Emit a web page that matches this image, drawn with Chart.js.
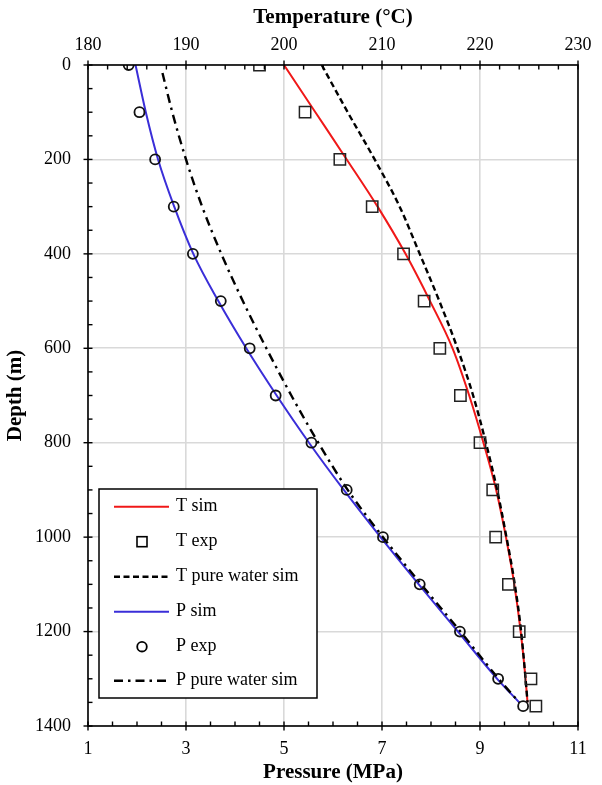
<!DOCTYPE html>
<html>
<head>
<meta charset="utf-8">
<script src="https://cdn.jsdelivr.net/npm/chart.js@4.4.1/dist/chart.umd.min.js"></script>
<style>
  html, body { margin: 0; padding: 0; background: #fff; }
  #wrap { width: 602px; height: 785px; }
</style>
</head>
<body>
<div id="wrap"><canvas id="c" width="602" height="785"></canvas></div>
<script>
// ---- Data ----
const simDepth = [0, 100, 200, 300, 400, 500, 600, 700, 800, 900, 1000, 1100, 1200, 1300, 1350];
const tSim     = [200.0, 203.2, 206.4, 209.55, 212.4, 214.9, 217.2, 218.9, 220.35, 221.65, 222.65, 223.5, 224.15, 224.65, 224.85];
const tPure    = [203.85, 206.5, 209.25, 211.8, 213.85, 215.85, 217.7, 219.3, 220.6, 221.75, 222.7, 223.55, 224.2, 224.65, 224.85];
const pSim     = [1.97, 2.18, 2.43, 2.76, 3.15, 3.66, 4.23, 4.85, 5.51, 6.22, 6.97, 7.75, 8.55, 9.35, 9.80];
const pureDepthP = [17, 100, 200, 300, 400, 500, 600, 700, 800, 900, 1000, 1100, 1200, 1300, 1350];
const pPure    = [2.52, 2.72, 3.0, 3.33, 3.72, 4.16, 4.64, 5.15, 5.70, 6.30, 7.02, 7.80, 8.60, 9.38, 9.80];
const expDepth = [0, 100, 200, 300, 400, 500, 600, 700, 800, 900, 1000, 1100, 1200, 1300, 1358];
const tExp     = [197.5, 202.15, 205.7, 209.0, 212.2, 214.3, 215.9, 218.0, 220.0, 221.3, 221.6, 222.9, 224.0, 225.2, 225.7];
const pExp     = [1.83, 2.05, 2.37, 2.75, 3.14, 3.71, 4.30, 4.83, 5.56, 6.28, 7.02, 7.77, 8.59, 9.37, 9.88];
const pTicks = [1, 3, 5, 7, 9, 11];
const tTicks = [180, 190, 200, 210, 220, 230];
const depthTicks = [0, 200, 400, 600, 800, 1000, 1200, 1400];
const legendLabels = ['T sim', 'T exp', 'T pure water sim', 'P sim', 'P exp', 'P pure water sim'];

const pts = (xs, ys) => xs.map((v, i) => ({ x: v, y: ys[i] }));

const RED = '#f01818';
const BLUE = '#3a2ed8';
const FONT = "'Liberation Serif', 'Times New Roman', serif";

Chart.defaults.font.family = FONT;
Chart.defaults.color = '#000';

const axesPlugin = {
  id: 'axesPlugin',
  afterDraw(chart) {
    const { ctx, chartArea: a, scales } = chart;
    const x = scales.x, x2 = scales.x2, y = scales.y;
    ctx.save();
    ctx.strokeStyle = '#000';
    ctx.lineWidth = 1.6;
    ctx.strokeRect(a.left, a.top, a.right - a.left, a.bottom - a.top);
    ctx.lineWidth = 1.4;
    const line = (x1, y1, xx, yy) => { ctx.beginPath(); ctx.moveTo(x1, y1); ctx.lineTo(xx, yy); ctx.stroke(); };
    for (let v = 1; v <= 11.0001; v += 0.5) {
      const px = x.getPixelForValue(v);
      const major = Math.abs(((v - 1) / 2) - Math.round((v - 1) / 2)) < 1e-6;
      line(px, a.bottom - 4.5, px, a.bottom + (major ? 4.5 : 0));
    }
    for (let v = 180; v <= 230.0001; v += 2) {
      const px = x2.getPixelForValue(v);
      const major = Math.abs(v % 10) < 1e-6;
      line(px, a.top - (major ? 4.5 : 0), px, a.top + 4.5);
    }
    for (let v = 0; v <= 1400.0001; v += 50) {
      const py = y.getPixelForValue(v);
      const major = Math.abs(v % 200) < 1e-6;
      line(a.left - (major ? 4.5 : 0), py, a.left + 4.5, py);
    }
    // legend
    const L = { left: 99, top: 489, right: 317, bottom: 698 };
    ctx.fillStyle = '#fff';
    ctx.fillRect(L.left, L.top, L.right - L.left, L.bottom - L.top);
    ctx.lineWidth = 1.5;
    ctx.strokeStyle = '#000';
    ctx.strokeRect(L.left, L.top, L.right - L.left, L.bottom - L.top);
    const rowsY = [506.7, 541.7, 576.7, 611.7, 646.7, 680.7];
    const styles = [
      { type: 'line', color: RED, dash: [] },
      { type: 'rect' },
      { type: 'line', color: '#000', dash: [6, 3.5], width: 2.4 },
      { type: 'line', color: BLUE, dash: [] },
      { type: 'circle' },
      { type: 'line', color: '#000', dash: [9, 5, 2.5, 5], width: 2.4 }
    ];
    ctx.font = "18px " + FONT;
    ctx.textBaseline = 'middle';
    ctx.textAlign = 'left';
    styles.forEach((s, i) => {
      const yy = rowsY[i];
      ctx.save();
      if (s.type === 'line') {
        ctx.strokeStyle = s.color;
        ctx.lineWidth = s.width || 2;
        ctx.setLineDash(s.dash);
        line(114, yy, 169, yy);
      } else if (s.type === 'rect') {
        ctx.strokeStyle = '#000';
        ctx.lineWidth = 1.6;
        ctx.strokeRect(142 - 5, yy - 5, 10, 10);
      } else {
        ctx.strokeStyle = '#000';
        ctx.lineWidth = 1.8;
        ctx.beginPath(); ctx.arc(142, yy, 4.8, 0, Math.PI * 2); ctx.stroke();
      }
      ctx.restore();
      ctx.fillStyle = '#000';
      ctx.fillText(legendLabels[i], 176, yy);
    });
    ctx.restore();
  }
};

const plain = v => String(v);

new Chart(document.getElementById('c'), {
  type: 'scatter',
  data: {
    datasets: [
      { label: legendLabels[0], xAxisID: 'x2', data: pts(tSim, simDepth), showLine: true, borderColor: RED, borderWidth: 2, pointRadius: 0, cubicInterpolationMode: 'monotone', order: 3 },
      { label: legendLabels[1], xAxisID: 'x2', data: pts(tExp, expDepth), showLine: false, pointStyle: 'rect', pointRadius: 8, borderColor: '#222', borderWidth: 1.5, backgroundColor: 'rgba(0,0,0,0)', order: 1 },
      { label: legendLabels[2], xAxisID: 'x2', data: pts(tPure, simDepth), showLine: true, borderColor: '#000', borderWidth: 2.4, borderDash: [6, 3.5], pointRadius: 0, cubicInterpolationMode: 'monotone', order: 2 },
      { label: legendLabels[3], xAxisID: 'x', data: pts(pSim, simDepth), showLine: true, borderColor: BLUE, borderWidth: 2, pointRadius: 0, cubicInterpolationMode: 'monotone', order: 3 },
      { label: legendLabels[4], xAxisID: 'x', data: pts(pExp, expDepth), showLine: false, pointStyle: 'circle', pointRadius: 5, borderColor: '#111', borderWidth: 1.8, backgroundColor: 'rgba(0,0,0,0)', order: 1 },
      { label: legendLabels[5], xAxisID: 'x', data: pts(pPure, pureDepthP), showLine: true, borderColor: '#000', borderWidth: 2.4, borderDash: [9, 5, 2.5, 5], pointRadius: 0, cubicInterpolationMode: 'monotone', order: 2 }
    ]
  },
  options: {
    responsive: false,
    animation: false,
    events: [],
    layout: { padding: { left: 0, right: 24, top: 0, bottom: 0 } },
    plugins: { legend: { display: false }, tooltip: { enabled: false } },
    scales: {
      x: {
        type: 'linear', position: 'bottom', min: 1, max: 11,
        afterBuildTicks: s => { s.ticks = pTicks.map(v => ({ value: v })); },
        afterFit: s => { s.height = 59; },
        ticks: { font: { size: 18 }, padding: 12, color: '#000', maxRotation: 0, callback: plain },
        grid: { color: '#d9d9d9', lineWidth: 1.6, drawTicks: false },
        border: { display: false },
        title: { display: true, text: 'Pressure (MPa)', font: { size: 21, weight: 'bold' }, padding: { top: 0, bottom: 0 }, color: '#000' }
      },
      x2: {
        type: 'linear', position: 'top', min: 180, max: 230,
        afterBuildTicks: s => { s.ticks = tTicks.map(v => ({ value: v })); },
        afterFit: s => { s.height = 65; },
        ticks: { font: { size: 18 }, padding: 9, color: '#000', maxRotation: 0, callback: plain },
        grid: { display: false, drawTicks: false },
        border: { display: false },
        title: { display: true, text: 'Temperature (°C)', font: { size: 21, weight: 'bold' }, padding: { top: 5, bottom: 0 }, color: '#000' }
      },
      y: {
        type: 'linear', position: 'left', min: 0, max: 1400, reverse: true,
        afterBuildTicks: s => { s.ticks = depthTicks.map(v => ({ value: v })); },
        afterFit: s => { s.width = 88; },
        ticks: { font: { size: 18 }, padding: 17, color: '#000', callback: plain },
        grid: { color: '#d9d9d9', lineWidth: 1.6, drawTicks: false },
        border: { display: false },
        title: { display: true, text: 'Depth (m)', font: { size: 21, weight: 'bold' }, padding: { top: 3, bottom: 4 }, color: '#000' }
      }
    }
  },
  plugins: [axesPlugin]
});
</script>
</body>
</html>
